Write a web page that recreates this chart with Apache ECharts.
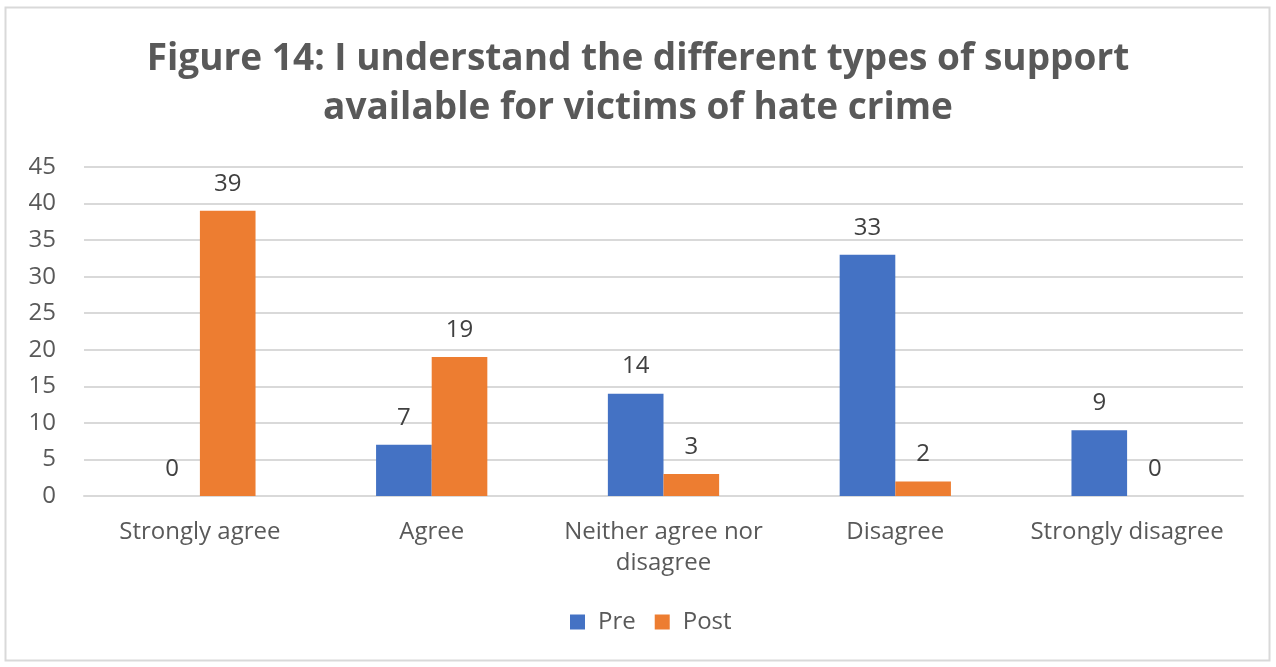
<!DOCTYPE html>
<html><head><meta charset="utf-8">
<script src="https://cdn.jsdelivr.net/npm/echarts@6/dist/echarts.min.js"></script>
<style>html,body{margin:0;padding:0;background:#fff}#c{width:1276px;height:667px}</style>
</head><body><div id="c"></div>
<script>
const categories = ['Strongly agree', 'Agree', 'Neither agree nor\ndisagree', 'Disagree', 'Strongly disagree'];
const preValues = [0, 7, 14, 33, 9];
const postValues = [39, 19, 3, 2, 0];
const seriesNames = ['Pre', 'Post'];
const titleText = 'Figure 14: I understand the different types of support\navailable for victims of hate crime';

const chart = echarts.init(document.getElementById('c'));
const font = '"Open Sans", "Noto Sans", sans-serif';
const labelStyle = {show: true, position: 'top', color: '#404040', fontSize: 24, fontFamily: font, distance: 15};
chart.setOption({
  animation: false,
  graphic: [{type: 'rect', shape: {x: 5.5, y: 7.5, width: 1264, height: 653}, style: {fill: 'none', stroke: '#d9d9d9', lineWidth: 2}}],
  title: {text: titleText, left: 'center', top: 30,
    textStyle: {fontSize: 37, fontWeight: 'bold', color: '#595959', fontFamily: font, lineHeight: 49}},
  legend: {data: seriesNames, bottom: 28, left: 565, itemWidth: 15, itemHeight: 15, itemGap: 19, icon: 'rect',
    textStyle: {fontSize: 24, color: '#595959', fontFamily: font, padding: [0, 0, 0, 8]}},
  grid: {left: 84, right: 33, top: 167, bottom: 171},
  xAxis: {type: 'category', data: categories,
    axisLine: {lineStyle: {color: '#d9d9d9', width: 2}}, axisTick: {show: false},
    axisLabel: {fontSize: 24, color: '#595959', fontFamily: font, margin: 21, lineHeight: 31, interval: 0}},
  yAxis: {type: 'value', min: 0, max: 45, interval: 5,
    axisLabel: {fontSize: 24, color: '#595959', fontFamily: font, margin: 28},
    splitLine: {lineStyle: {color: '#d9d9d9', width: 2}}},
  series: [
    {name: seriesNames[0], type: 'bar', data: preValues, itemStyle: {color: '#4472C4'}, barGap: '0%', barCategoryGap: '52%', label: labelStyle},
    {name: seriesNames[1], type: 'bar', data: postValues, itemStyle: {color: '#ED7D31'}, barGap: '0%', barCategoryGap: '52%', label: labelStyle}
  ]
});
</script></body></html>
